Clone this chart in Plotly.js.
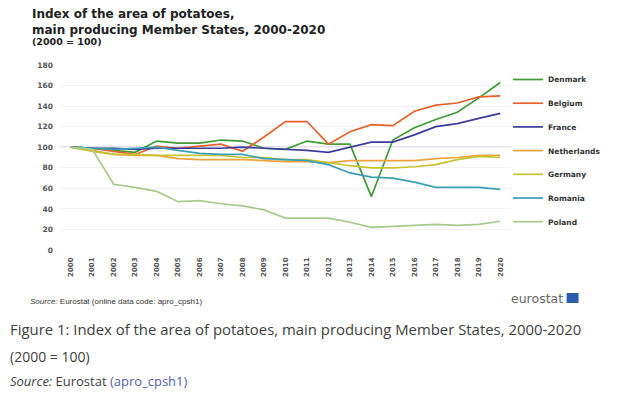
<!DOCTYPE html>
<html>
<head>
<meta charset="utf-8">
<script src="https://cdn.plot.ly/plotly-3.0.1.min.js"></script>
<style>
html,body{margin:0;padding:0;background:#fff;}
#chart{width:618px;height:401px;}
</style>
</head>
<body>
<div id="chart"></div>
<script>
const years = ["2000","2001","2002","2003","2004","2005","2006","2007","2008","2009","2010","2011","2012","2013","2014","2015","2016","2017","2018","2019","2020"];
const denmark     = [100, 99, 97, 95,106,104,104,107,106, 99, 98,106,103,103, 52,107,119,127,134,148,163];
const belgium     = [100, 99, 96, 93,101, 99,101,103, 96,110,125,125,103,115,122,121,135,141,143,149,150];
const france      = [100, 99, 99, 98, 99, 99, 99, 99,100, 99, 98, 97, 95,100,105,105,112,120,123,128,133];
const netherlands = [100, 97, 93, 92, 92, 89, 88, 88, 88, 87, 86, 86, 85, 87, 87, 87, 87, 89, 90, 92, 92];
const germany     = [100, 96, 93, 93, 92, 92, 92, 92, 90, 90, 88, 88, 85, 82, 80, 80, 81, 83, 88, 91, 90];
const romania     = [100, 99, 98, 99,100, 97, 94, 93, 93, 89, 88, 87, 83, 75, 71, 70, 66, 61, 61, 61, 59];
const poland      = [100, 98, 64, 61, 57, 47, 48, 45, 43, 39, 31, 31, 31, 27, 22, 23, 24, 25, 24, 25, 28];

const seriesNames = ["Denmark","Belgium","France","Netherlands","Germany","Romania","Poland"];
const seriesData = [denmark, belgium, france, netherlands, germany, romania, poland];
const seriesColors = ["#3f9b35","#e8612c","#3c3c9c","#eaa33a","#c8c430","#3a9fb5","#a9c98b"];
const yTicks = [0,20,40,60,80,100,120,140,160,180];

const traces = seriesNames.map((n,i)=>({
  type:'scatter', mode:'lines', name:n, x:years, y:seriesData[i],
  legendgroup:n,
  line:{color:seriesColors[i], width:1.7}
}));

const L = 60, T = 65, W = 454, H = 185;
function px(x){return (x-L)/W;}
function py(y){return (T+H-y)/H;}

const heavy = "DejaVu Sans, sans-serif";
const font = "Liberation Sans, Arial, sans-serif";
const layout = {
  width:618, height:401,
  margin:{l:L, r:618-L-W, t:T, b:401-T-H},
  paper_bgcolor:'#fff', plot_bgcolor:'#fff',
  showlegend:true,
  legend:{x:px(511), xanchor:'left', y:py(65), yanchor:'top',
    font:{family:heavy, size:7.5, color:'#333', weight:'bold'},
    tracegroupgap:4.7, itemwidth:30, bgcolor:'rgba(0,0,0,0)'},
  xaxis:{type:'category', range:[-0.5,20.5], showgrid:false, zeroline:false, showline:false,
    ticks:'', tickangle:-90, ticklabelstandoff:5,
    tickfont:{family:heavy, size:7, color:'#555', weight:'bold'}},
  yaxis:{range:[0,180], tickvals:yTicks, showgrid:true, gridcolor:'#f2f2f2', gridwidth:1, zeroline:false,
    showline:false, ticks:'', ticklabelstandoff:6,
    tickfont:{family:heavy, size:7.5, color:'#555', weight:'bold'}},
  shapes:[
    {type:'line', xref:'paper', x0:0, x1:1, yref:'y', y0:100, y1:100, layer:'below',
      line:{color:'#c9bde6', width:1.2}},
    {type:'rect', xref:'paper', yref:'paper', x0:px(570), x1:px(582), y0:py(303), y1:py(293),
      fillcolor:'#2a5db0', line:{width:0}}
  ],
  annotations:[
    {xref:'paper', yref:'paper', x:px(30), y:py(5), xanchor:'left', yanchor:'top', align:'left', showarrow:false,
      text:'<b>Index of the area of potatoes,<br>main producing Member States, 2000-2020</b>',
      font:{family:heavy, size:12, color:'#222'}},
    {xref:'paper', yref:'paper', x:px(30), y:py(42), xanchor:'left', yanchor:'middle', align:'left', showarrow:false,
      text:'<b>(2000 = 100)</b>', font:{family:heavy, size:9.5, color:'#222'}},
    {xref:'paper', yref:'paper', x:px(28), y:py(301), xanchor:'left', yanchor:'middle', showarrow:false,
      text:'<i>Source:</i> Eurostat (online data code: apro_cpsh1)', font:{family:font, size:8, color:'#333'}},
    {xref:'paper', yref:'paper', x:px(568), y:py(298), xanchor:'right', yanchor:'middle', showarrow:false,
      text:'eurostat', font:{family:heavy, size:12.5, color:'#666'}},
    {xref:'paper', yref:'paper', x:px(8), y:py(329), xanchor:'left', yanchor:'middle', showarrow:false,
      text:'Figure 1: Index of the area of potatoes, main producing Member States, 2000-2020',
      font:{family:'Open Sans, sans-serif', size:14.9, color:'#404040'}},
    {xref:'paper', yref:'paper', x:px(8), y:py(356), xanchor:'left', yanchor:'middle', showarrow:false,
      text:'(2000 = 100)', font:{family:'Open Sans, sans-serif', size:14, color:'#404040'}},
    {xref:'paper', yref:'paper', x:px(8), y:py(381), xanchor:'left', yanchor:'middle', showarrow:false,
      text:'<i>Source:</i> Eurostat <span style="color:#5560a8">(apro_cpsh1)</span>',
      font:{family:'Open Sans, sans-serif', size:13, color:'#404040'}}
  ]
};

Plotly.newPlot('chart', traces, layout, {staticPlot:true, displayModeBar:false});
</script>
</body>
</html>
